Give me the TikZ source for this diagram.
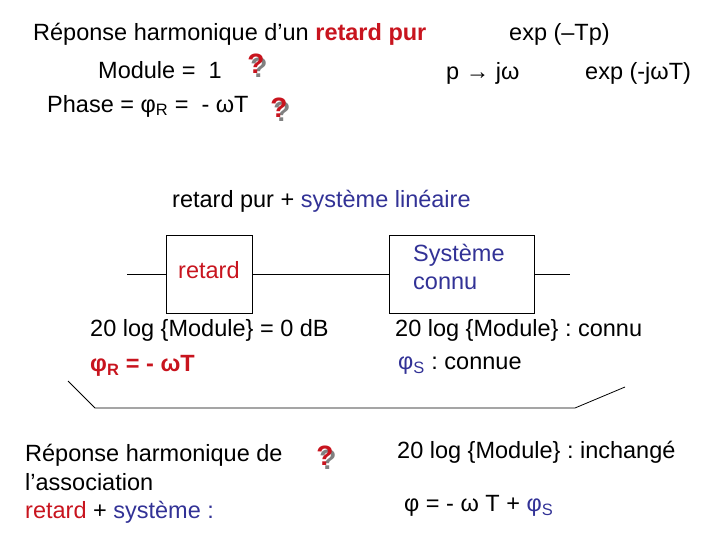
\documentclass[tikz,border=0pt]{standalone}
\usepackage{fontspec}
\setmainfont{Liberation Sans}
\frenchspacing
\definecolor{dred}{RGB}{200,20,30}
\definecolor{dblue}{RGB}{50,50,150}
\begin{document}
\begin{tikzpicture}[x=1pt,y=-1pt,
  t/.style={anchor=west,inner sep=0pt,font=\fontsize{23.5}{28}\selectfont},
  blk/.style={draw,thick,inner sep=0pt},
  qm/.style={inner sep=0pt,font=\fontsize{28}{28}\selectfont\bfseries}]
\useasboundingbox (0,0) rectangle (720,540);
\newcommand{\qmark}[2]{\node[qm,text=gray] at (#1+3,#2+4) {?};\node[qm,text=dred] at (#1,#2) {?};}
\node[t] (t1) at (33,34) {Réponse harmonique d’un \textcolor{dred}{\bfseries retard pur}};
\node[t] (t2) at (509,34) {exp (–Tp)};
\node[t] (t3) at (98,70) {Module =\ \ 1};
\qmark{256}{64}
\node[t] (t4) at (446,73) {p → jω};
\node[t] (t5) at (585,73) {exp (-jωT)};
\node[t] (t6) at (47,106) {Phase = φ\textsubscript{R} =\ \ - ωT};
\qmark{279}{108}
\node[t] (t7) at (172,201) {retard pur + \textcolor{dblue}{système linéaire}};
\node[blk,minimum width=86,minimum height=78] (r) at (209,274) {};
\node[t,text=dred] at (178,270) {retard};
\node[blk,minimum width=145,minimum height=78] (s) at (461.5,274) {};
\node[t,text=dblue,align=left,font=\fontsize{23.5}{28}\selectfont] at (413,267) {Système\\connu};
\coordinate (in) at (127,274); \coordinate (out) at (570,274);
\draw[thick] (in) -- (r.west) (r.east) -- (s.west) (s.east) -- (out);
\node[t] at (90,330) {20 log \{Module\} = 0 dB};
\node[t,text=dred,font=\fontsize{23.5}{28}\selectfont\bfseries] at (90,366) {φ\textsubscript{R} = - ωT};
\node[t] at (395,330) {20 log \{Module\} : connu};
\node[t] at (398,366) {\textcolor{dblue}{φ\textsubscript{S}} : connue};
\coordinate (b1) at (68,381); \coordinate (b2) at (95,408); \coordinate (b3) at (575,408); \coordinate (b4) at (625,387);
\draw[thick] (b1) -- (b2) -- (b3) -- (b4);
\node[t,align=left,font=\fontsize{23.5}{28.5}\selectfont] at (25,484) {Réponse harmonique de\\l’association\\\textcolor{dred}{retard} + \textcolor{dblue}{système :}};
\qmark{325}{456}
\node[t] at (397,452) {20 log \{Module\} : inchangé};
\node[t] at (404,506) {φ = - ω T + \textcolor{dblue}{φ\textsubscript{S}}};
\end{tikzpicture}
\end{document}
